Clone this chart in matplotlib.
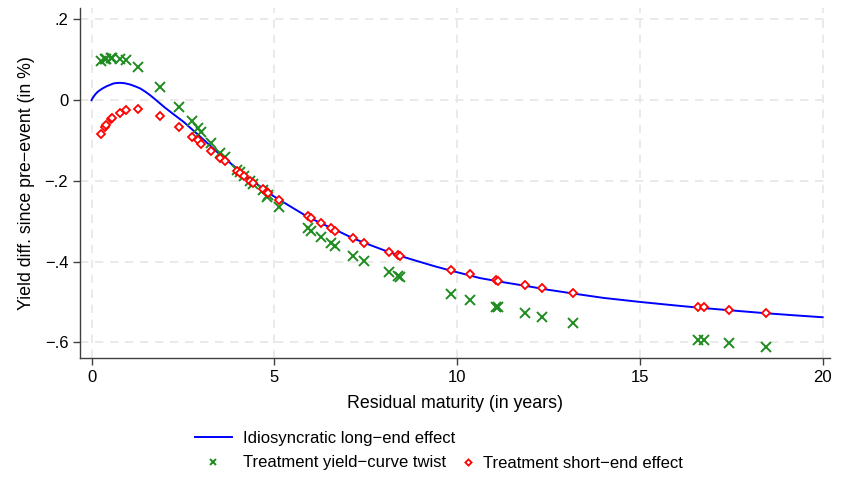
import numpy as np
import matplotlib
matplotlib.use("Agg")
import matplotlib.pyplot as plt

plt.rcParams['font.family'] = ['Liberation Sans', 'DejaVu Sans']

# residual maturities (years) of the bonds
maturity = [0.25, 0.36, 0.40, 0.53, 0.57, 0.79, 0.95, 1.27, 1.87, 2.38,
            2.74, 2.91, 3.00, 3.27, 3.52, 3.64, 3.97, 4.06, 4.17, 4.34,
            4.43, 4.70, 4.79, 4.84, 5.14, 5.91, 6.01, 6.28, 6.56, 6.67,
            7.16, 7.46, 8.14, 8.39, 8.44, 9.82, 10.36, 11.07, 11.13, 11.86,
            12.33, 13.17, 16.59, 16.74, 17.43, 18.45]

twist = [0.097, 0.102, 0.103, 0.105, 0.105, 0.103, 0.099, 0.082, 0.032, -0.016,
         -0.052, -0.068, -0.078, -0.107, -0.130, -0.140, -0.172, -0.178, -0.188, -0.200,
         -0.208, -0.223, -0.241, -0.235, -0.266, -0.318, -0.324, -0.340, -0.353, -0.361,
         -0.385, -0.398, -0.426, -0.436, -0.439, -0.481, -0.495, -0.512, -0.513, -0.528,
         -0.537, -0.551, -0.594, -0.594, -0.603, -0.611]

short_end = [-0.084, -0.066, -0.062, -0.047, -0.044, -0.031, -0.025, -0.021, -0.039, -0.067,
             -0.091, -0.100, -0.109, -0.126, -0.144, -0.152, -0.175, -0.180, -0.187, -0.200,
             -0.205, -0.221, -0.227, -0.230, -0.248, -0.287, -0.292, -0.305, -0.318, -0.324,
             -0.341, -0.353, -0.376, -0.383, -0.386, -0.421, -0.432, -0.446, -0.448, -0.459,
             -0.466, -0.478, -0.513, -0.513, -0.520, -0.527]

# idiosyncratic long-end effect curve
curve_x = [0.0, 0.05, 0.10, 0.16, 0.23, 0.32, 0.42, 0.51, 0.60, 0.69,
           0.78, 0.90, 1.05, 1.20, 1.33, 1.47, 1.60, 1.74, 1.87, 2.00,
           2.20, 2.52, 2.98, 3.43, 3.98, 4.25, 4.98, 5.45, 5.89, 6.30,
           6.71, 7.17, 7.65, 8.12, 8.55, 8.99, 9.40, 9.81, 10.63, 11.25,
           11.86, 12.50, 13.16, 14.0, 15.0, 16.0, 16.58, 17.5, 18.44, 19.2, 20.0]
curve_y = [0.0, 0.008, 0.014, 0.020, 0.0248, 0.030, 0.0347, 0.038, 0.0413, 0.0425,
           0.0429, 0.042, 0.0389, 0.0340, 0.029, 0.021, 0.0124, 0.002, -0.008, -0.018,
           -0.032, -0.054, -0.091, -0.128, -0.170, -0.190, -0.238, -0.264, -0.288, -0.306,
           -0.323, -0.343, -0.360, -0.376, -0.389, -0.401, -0.412, -0.422, -0.441, -0.451,
           -0.460, -0.470, -0.479, -0.490, -0.500, -0.509, -0.514, -0.521, -0.528, -0.533, -0.538]

fig = plt.figure(figsize=(8.46, 4.78), dpi=100)
ax = fig.add_axes([0.0946, 0.251, 0.8865, 0.732])

ax.set_axisbelow(True)
ax.grid(True, color='#e6e6e6', linestyle=(0, (5, 4)), linewidth=1.2)

line, = ax.plot(curve_x, curve_y, color='#0000ff', lw=1.4)
g, = ax.plot(maturity, twist, linestyle='none', marker='x', color='#1e8c1e',
             ms=6.5, mew=1.4)
r, = ax.plot(maturity, short_end, linestyle='none', marker='D', mfc='white',
             mec='#ff0000', ms=4.2, mew=1.3)

ax.set_xlim(-0.315, 20.2)
ax.set_ylim(-0.639, 0.228)
ax.set_xticks([0, 5, 10, 15, 20])
ax.set_yticks([-0.6, -0.4, -0.2, 0, 0.2])
ax.set_yticklabels(['\u2212.6', '\u2212.4', '\u2212.2', '0', '.2'])

for s in ['top', 'right']:
    ax.spines[s].set_visible(False)
for s in ['left', 'bottom']:
    ax.spines[s].set_color('#404040')
    ax.spines[s].set_linewidth(1.0)
ax.tick_params(axis='both', labelsize=12, length=5, color='#404040', width=1.0)

ax.set_xlabel('Residual maturity (in years)', fontsize=12.8, labelpad=7)
ax.set_ylabel('Yield diff. since pre\u2212event (in %)', fontsize=12.8, labelpad=7)

# legend below the plot: one row with the line, one row with both marker series
common = dict(frameon=False, fontsize=12, borderpad=0, borderaxespad=0, loc='center left')
leg1 = fig.legend([line], ['Idiosyncratic long\u2212end effect'],
                  bbox_to_anchor=(195 / 846, 1 - 438 / 478),
                  handlelength=2.2, handletextpad=0.66, **common)
leg2 = fig.legend([g], ['Treatment yield\u2212curve twist'],
                  bbox_to_anchor=(195 / 846, 1 - 463 / 478),
                  handlelength=2.2, handletextpad=0.66, markerscale=0.65, **common)
leg3 = fig.legend([r], ['Treatment short\u2212end effect'],
                  bbox_to_anchor=(460 / 846, 1 - 463 / 478),
                  handlelength=1.0, handletextpad=0.36, markerscale=0.75, **common)

plt.savefig('out.png', dpi=100)
